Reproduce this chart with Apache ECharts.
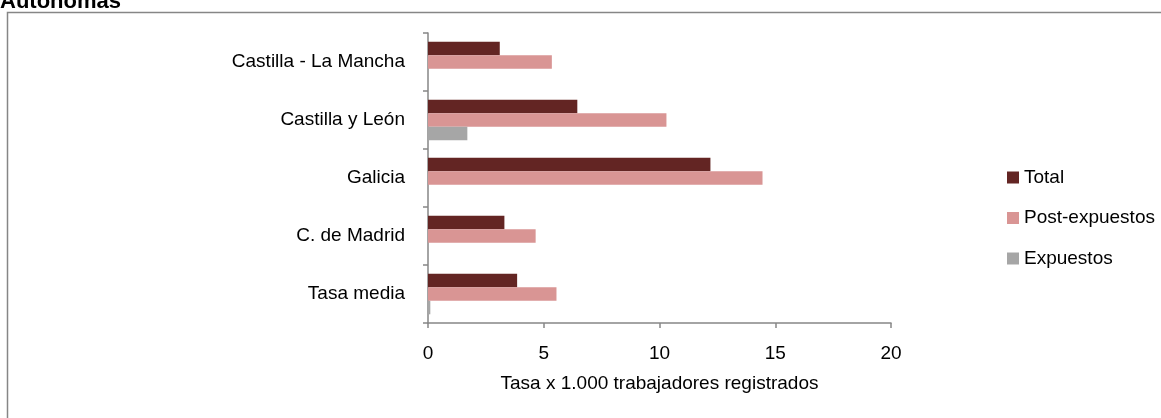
<!DOCTYPE html>
<html>
<head>
<meta charset="utf-8">
<script src="https://cdn.jsdelivr.net/npm/echarts@6/dist/echarts.min.js"></script>
<style>
  html, body { margin: 0; padding: 0; background: #ffffff; }
  #chart { width: 1161px; height: 418px; }
</style>
</head>
<body>
<div id="chart"></div>
<script>
// Regions, listed top to bottom
const categories = ['Castilla - La Mancha', 'Castilla y León', 'Galicia', 'C. de Madrid', 'Tasa media'];

// Rates per 1,000 registered workers
const totalValues = [3.1, 6.45, 12.2, 3.3, 3.85];
const postExpuestosValues = [5.35, 10.3, 14.45, 4.65, 5.55];
const expuestosValues = [0, 1.7, 0, 0, 0.1];

const seriesNames = ['Total', 'Post-expuestos', 'Expuestos'];
const xTicks = [0, 5, 10, 15, 20];

const FONT = "'Liberation Sans', Arial, sans-serif";
const FONT_SIZE = 19;
const AXIS_GRAY = '#868686';

const chart = echarts.init(document.getElementById('chart'), null, { renderer: 'canvas' });

chart.setOption({
  animation: false,
  backgroundColor: '#ffffff',
  textStyle: { fontFamily: FONT },
  graphic: [
    {
      type: 'rect',
      silent: true,
      shape: { x: 7.5, y: 12.5, width: 1170, height: 420 },
      style: { fill: 'none', stroke: AXIS_GRAY, lineWidth: 1.5 }
    },
    {
      type: 'text',
      silent: true,
      left: 0,
      top: -9,
      style: {
        text: 'Autónomas',
        fontFamily: FONT,
        fontWeight: 'bold',
        fontSize: 22,
        fill: '#000000'
      }
    }
  ],
  grid: { left: 428, right: 270, top: 33, bottom: 95, containLabel: false },
  legend: {
    orient: 'vertical',
    left: 1002,
    top: 163,
    itemWidth: 12,
    itemHeight: 12,
    itemGap: 21.5,
    icon: 'rect',
    data: seriesNames,
    textStyle: { fontFamily: FONT, fontSize: FONT_SIZE, color: '#000000', lineHeight: 19 }
  },
  xAxis: {
    type: 'value',
    min: xTicks[0],
    max: xTicks[xTicks.length - 1],
    interval: xTicks[1] - xTicks[0],
    name: 'Tasa x 1.000 trabajadores registrados',
    nameLocation: 'middle',
    nameGap: 51,
    nameTextStyle: { fontFamily: FONT, fontSize: FONT_SIZE, color: '#000000' },
    axisLine: { show: true, lineStyle: { color: AXIS_GRAY, width: 1.5 } },
    axisTick: { show: true, length: 5, lineStyle: { color: AXIS_GRAY, width: 1.5 } },
    axisLabel: { margin: 21, fontFamily: FONT, fontSize: FONT_SIZE, color: '#000000' },
    splitLine: { show: false }
  },
  yAxis: {
    type: 'category',
    inverse: true,
    data: categories,
    axisLine: { show: true, lineStyle: { color: AXIS_GRAY, width: 1.5 } },
    axisTick: { show: true, length: 5, lineStyle: { color: AXIS_GRAY, width: 1.5 } },
    axisLabel: { margin: 23, fontFamily: FONT, fontSize: FONT_SIZE, color: '#000000' },
    splitLine: { show: false }
  },
  series: [
    {
      name: seriesNames[0], type: 'bar', data: totalValues,
      barCategoryGap: '30%', barGap: '0%',
      itemStyle: { color: '#632523' }
    },
    {
      name: seriesNames[1], type: 'bar', data: postExpuestosValues,
      barCategoryGap: '30%', barGap: '0%',
      itemStyle: { color: '#D99594' }
    },
    {
      name: seriesNames[2], type: 'bar', data: expuestosValues,
      barCategoryGap: '30%', barGap: '0%',
      itemStyle: { color: '#A6A6A6' }
    }
  ]
});
</script>
</body>
</html>
